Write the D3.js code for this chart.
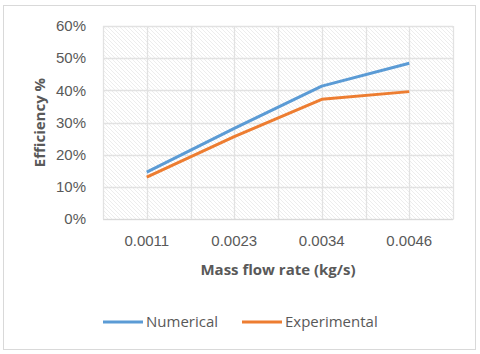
<!DOCTYPE html>
<html lang="en">
<head>
<meta charset="utf-8">
<title>Efficiency vs mass flow rate</title>
<script src="https://d3js.org/d3.v7.min.js"></script>
<style>
  body { margin: 0; background: #fff; }
  svg { font-family: "Open Sans", sans-serif; }
</style>
</head>
<body>
<svg width="480" height="354"></svg>
<script>

// data
var categories = ["0.0011", "0.0023", "0.0034", "0.0046"];
var numerical = [14.6, 28.2, 41.3, 48.4];
var experimental = [13.0, 25.6, 37.2, 39.6];
var yTicks = [0, 10, 20, 30, 40, 50, 60];

var svg = d3.select("svg"),
    margin = {top: 26, right: 27, bottom: 135, left: 103},
    w = 480 - margin.left - margin.right,
    h = 354 - margin.top - margin.bottom;

// outer frame
svg.append("rect")
    .attr("x", 3.5).attr("y", 5.5)
    .attr("width", 472).attr("height", 344)
    .attr("fill", "#fff")
    .attr("stroke", "#d9d9d9");

// hatched plot background
var defs = svg.append("defs");
defs.append("pattern")
    .attr("id", "hatch")
    .attr("patternUnits", "userSpaceOnUse")
    .attr("width", 4).attr("height", 4)
  .append("path")
    .attr("d", "M-1,-1 L5,5 M-1,3 L1,5 M3,-1 L5,1")
    .attr("stroke", "#ededed")
    .attr("stroke-width", 1);

var xScale = d3.scaleBand().domain(categories).range([0, w]),
    yScale = d3.scaleLinear().domain([0, 60]).range([h, 0]);

var g = svg.append("g")
    .attr("transform", "translate(" + margin.left + "," + margin.top + ")");

g.append("rect")
    .attr("width", w).attr("height", h)
    .attr("fill", "url(#hatch)");

// horizontal gridlines
g.selectAll(".hgrid")
  .data(yTicks)
  .enter().append("line")
    .attr("x1", 0).attr("x2", w)
    .attr("y1", function(d) { return Math.round(yScale(d)) + 0.5; })
    .attr("y2", function(d) { return Math.round(yScale(d)) + 0.5; })
    .attr("stroke", "#e2e2e2")
    .attr("stroke-width", 1.3);

// vertical gridlines at band edges and centres
var vlines = [];
categories.forEach(function(c) {
  vlines.push(xScale(c));
  vlines.push(xScale(c) + xScale.bandwidth() / 2);
});
vlines.push(w);
g.selectAll(".vgrid")
  .data(vlines)
  .enter().append("line")
    .attr("x1", function(d) { return Math.round(d) + 0.5; })
    .attr("x2", function(d) { return Math.round(d) + 0.5; })
    .attr("y1", 0).attr("y2", h)
    .attr("stroke", "#e2e2e2")
    .attr("stroke-width", 1.3);

// y axis
var yAxis = g.append("g")
    .call(d3.axisLeft(yScale).tickValues(yTicks).tickSize(0).tickPadding(17)
      .tickFormat(function(d) { return d + "%"; }));
yAxis.select(".domain").remove();
yAxis.selectAll("text")
    .attr("fill", "#595959")
    .style("font-size", "15px");

// x axis
var xAxis = g.append("g")
    .attr("transform", "translate(0," + h + ")")
    .call(d3.axisBottom(xScale).tickSize(0).tickPadding(16));
xAxis.select(".domain").attr("stroke", "#d9d9d9");
xAxis.selectAll("text")
    .attr("fill", "#595959")
    .style("font-size", "15px");

// series lines
var line = d3.line()
    .x(function(d, i) { return xScale(categories[i]) + xScale.bandwidth() / 2; })
    .y(function(d) { return yScale(d); });

var series = [
  {name: "Numerical", values: numerical, color: "#5B9BD5"},
  {name: "Experimental", values: experimental, color: "#ED7D31"}
];

g.selectAll(".series")
  .data(series)
  .enter().append("path")
    .attr("d", function(d) { return line(d.values); })
    .attr("fill", "none")
    .attr("stroke", function(d) { return d.color; })
    .attr("stroke-width", 3)
    .attr("stroke-linejoin", "round");

// axis titles
svg.append("text")
    .attr("transform", "translate(45," + (margin.top + h / 2) + ") rotate(-90)")
    .attr("text-anchor", "middle")
    .attr("font-weight", "bold")
    .attr("fill", "#595959")
    .style("font-size", "15px")
    .text("Efficiency %");

svg.append("text")
    .attr("x", margin.left + w / 2)
    .attr("y", 275)
    .attr("text-anchor", "middle")
    .attr("font-weight", "bold")
    .attr("fill", "#595959")
    .style("font-size", "15px")
    .text("Mass flow rate (kg/s)");

// legend
var legendX = [103, 242];
var legend = svg.selectAll(".legend")
  .data(series)
  .enter().append("g")
    .attr("transform", function(d, i) { return "translate(" + legendX[i] + ",322)"; });
legend.append("line")
    .attr("x1", 0).attr("x2", 40)
    .attr("stroke", function(d) { return d.color; })
    .attr("stroke-width", 3);
legend.append("text")
    .attr("x", 43)
    .attr("dy", "0.35em")
    .attr("fill", "#595959")
    .style("font-size", "15px")
    .text(function(d) { return d.name; });

</script>
</body>
</html>
